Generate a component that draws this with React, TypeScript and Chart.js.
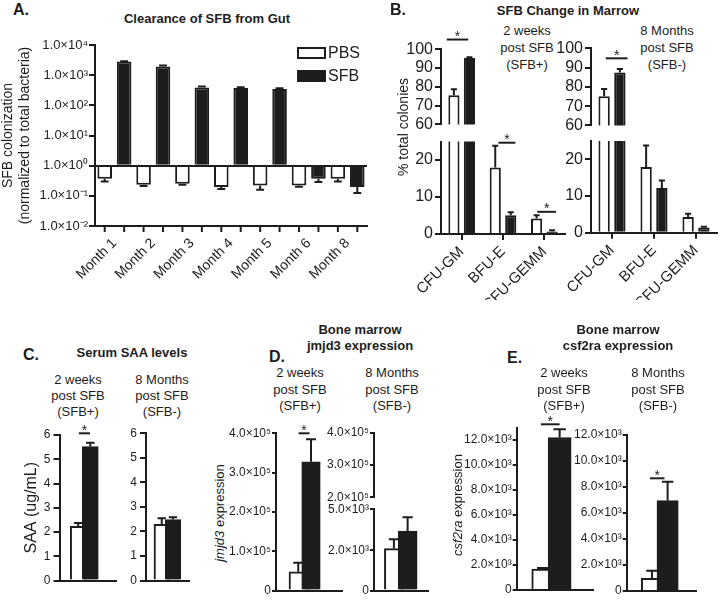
import React, { useEffect, useRef } from 'react';
import { Chart, registerables } from 'chart.js';

Chart.register(...registerables);

const FONT = '"Liberation Sans", Arial, Helvetica, sans-serif';
const INK = '#1d1d1d';
const WHITE = '#ffffff';

// ---------------- Panel A: clearance of SFB from gut ----------------
const monthLabels = ['Month 1', 'Month 2', 'Month 3', 'Month 4', 'Month 5', 'Month 6', 'Month 8'];
const gutPBS = [0.37, 0.235, 0.25, 0.197, 0.22, 0.22, 0.37];
const gutPBSErr = [0.07, 0.025, 0.015, 0.027, 0.06, 0.02, 0.07];
const gutSFB = [2830, 1950, 390, 375, 347, 0.37, 0.197];
const gutSFBErr = [70, 150, 30, 20, 18, 0.08, 0.072];
const gutDecades = [-2, -1, 0, 1, 2, 3, 4];

// ---------------- Panel B: colonies in marrow ----------------
const colonyTypes = ['CFU-GM', 'BFU-E', 'CFU-GEMM'];
const colonies2wPBS = [75.5, 18.0, 4.2];
const colonies2wPBSErr = [3.2, 5.9, 0.85];
const colonies2wSFB = [95.3, 5.1, 0.7];
const colonies2wSFBErr = [0.5, 0.8, 0.3];
const colonies8mPBS = [75.1, 17.9, 4.3];
const colonies8mPBSErr = [3.8, 5.9, 0.9];
const colonies8mSFB = [87.5, 12.2, 1.4];
const colonies8mSFBErr = [1.7, 2.0, 0.2];
const colonyUpperTicks = [60, 70, 80, 90, 100];
const colonyLowerTicks = [0, 10, 20];
// significance bars: [from (category index), to, y value]
const colonies2wSigUpper = [[-0.36, 0.16, 105.2]];
const colonies2wSigLower = [[0.89, 1.3, 24.7], [1.83, 2.28, 6.0]];
const colonies8mSigUpper = [[-0.15, 0.37, 94.8]];

// ---------------- Panel C: serum SAA ----------------
const groups = ['PBS', 'SFB'];
const saa2w = [2.23, 5.52];
const saa2wErr = [0.14, 0.16];
const saa8m = [2.29, 2.48];
const saa8mErr = [0.25, 0.1];
const saa2wSig = [[1.054, 1.98, 6.07]];
const saaTicks = [0, 1, 2, 3, 4, 5, 6];

// ---------------- Panel D: jmjd3 ----------------
const jmjd2w = [47800, 327700];
const jmjd2wErr = [23000, 57000];
const jmjd8m = [2090, 2960];
const jmjd8mErr = [460, 690];
const jmjd2wSig = [[1.03, 1.88, 400000]];
const jmjdTicks = [0, 100000, 200000, 300000, 400000];
const jmjdUpperTicks = [200000, 300000, 400000];
const jmjdLowerTicks = [0, 2000, 4050];
const jmjdLowerTickLabels = ['0', '2.0×10³', '5.0×10³'];

// ---------------- Panel E: csf2ra ----------------
const csf2w = [1680, 12200];
const csf2wErr = [80, 660];
const csf8m = [980, 6950];
const csf8mErr = [580, 1450];
const csf2wSig = [[0.854, 2.0, 13256]];
const csf8mSig = [[0.875, 1.8, 8669]];
const csfTicks = [0, 2000, 4000, 6000, 8000, 10000, 12000];

// ---------------- helpers ----------------
const SUP_MAP: Record<string, string> = {
  '0': '\u2070', '1': '\u00B9', '2': '\u00B2', '3': '\u00B3', '4': '\u2074',
  '5': '\u2075', '6': '\u2076', '7': '\u2077', '8': '\u2078', '9': '\u2079', '-': '\u207B',
};
const sup = (n: number) => String(n).split('').map((c) => SUP_MAP[c] || c).join('');

type Box = { x: number; y: number; w: number; h: number };
type Area = { l: number; t: number; r: number; b: number };
type Fit = { yW: number; xH: number; top: number; right: number };

const fitOf = (box: Box, a: Area): Fit => ({
  yW: a.l - box.x,
  xH: box.y + box.h - a.b,
  top: a.t - box.y,
  right: box.x + box.w - a.r,
});

const valOf = (d: any) => (typeof d === 'number' ? d : d.y);

const errorBarPlugin = {
  id: 'errorBars',
  afterDatasetsDraw(chart: any) {
    const { ctx, chartArea } = chart;
    const ys = chart.scales.y;
    ctx.save();
    ctx.beginPath();
    ctx.rect(chartArea.left, chartArea.top - 1, chartArea.right - chartArea.left, chartArea.bottom - chartArea.top + 1);
    ctx.clip();
    ctx.strokeStyle = INK;
    ctx.lineWidth = 2;
    chart.data.datasets.forEach((ds: any, di: number) => {
      if (!ds.errors) return;
      const base = ds.base ?? 0;
      const meta = chart.getDatasetMeta(di);
      meta.data.forEach((el: any, i: number) => {
        const v = valOf(ds.data[i]);
        const e = ds.errors[i];
        const end = v < base ? v - e : v + e;
        const py = ys.getPixelForValue(end);
        const cap = Math.max(3, el.width * 0.27);
        ctx.beginPath();
        ctx.moveTo(el.x, el.y);
        ctx.lineTo(el.x, py);
        ctx.moveTo(el.x - cap, py);
        ctx.lineTo(el.x + cap, py);
        ctx.stroke();
      });
    });
    ctx.restore();
  },
};

const barTickPlugin = {
  id: 'barTicks',
  afterDraw(chart: any) {
    const { ctx, chartArea } = chart;
    ctx.save();
    ctx.strokeStyle = INK;
    ctx.lineWidth = 2;
    chart.data.datasets.forEach((_: any, di: number) => {
      chart.getDatasetMeta(di).data.forEach((el: any) => {
        ctx.beginPath();
        ctx.moveTo(el.x, chartArea.bottom);
        ctx.lineTo(el.x, chartArea.bottom + 6);
        ctx.stroke();
      });
    });
    ctx.restore();
  },
};

const sigPlugin = (items: number[][]) => ({
  id: 'sig',
  afterDraw(chart: any) {
    const { ctx } = chart;
    const xs = chart.scales.x;
    const ys = chart.scales.y;
    ctx.save();
    ctx.strokeStyle = INK;
    ctx.fillStyle = INK;
    ctx.lineWidth = 2;
    ctx.font = `14px ${FONT}`;
    ctx.textAlign = 'center';
    ctx.textBaseline = 'alphabetic';
    items.forEach(([a, b, v]) => {
      const x1 = xs.getPixelForValue(a);
      const x2 = xs.getPixelForValue(b);
      const y = ys.getPixelForValue(v);
      ctx.beginPath();
      ctx.moveTo(x1, y);
      ctx.lineTo(x2, y);
      ctx.stroke();
      ctx.fillText('*', (x1 + x2) / 2, y + 1.5);
    });
    ctx.restore();
  },
});

const common = (f: Fit, xHidden: boolean) => ({
  responsive: false,
  maintainAspectRatio: false,
  animation: false,
  devicePixelRatio: 1,
  layout: { padding: { left: 0, top: f.top, right: f.right, bottom: xHidden ? f.xH : 0 } },
  plugins: { legend: { display: false }, tooltip: { enabled: false } },
});

type YOpts = {
  type?: string;
  min: number;
  max: number;
  font: number;
  fmt: (v: number) => string;
  ticks: number[];
  title?: any;
  tickLen?: number;
  pad?: number;
};

const yScale = (f: Fit, o: YOpts) => ({
  type: o.type ?? 'linear',
  position: 'left',
  min: o.min,
  max: o.max,
  afterFit: (s: any) => {
    s.width = f.yW;
  },
  afterBuildTicks: (s: any) => {
    s.ticks = o.ticks.map((v) => ({ value: v }));
  },
  border: { display: true, color: INK, width: 2, z: 1 },
  grid: {
    display: true,
    drawOnChartArea: false,
    drawTicks: true,
    tickLength: o.tickLen ?? 5,
    color: INK,
    tickColor: INK,
    lineWidth: 2,
  },
  ticks: {
    font: { family: FONT, size: o.font },
    color: INK,
    padding: o.pad ?? 2,
    autoSkip: false,
    callback: (v: any) => o.fmt(Number(v)),
  },
  title: o.title ?? { display: false },
});

const xCat = (f: Fit, font: number, showTicks: boolean) => ({
  type: 'category',
  position: 'bottom',
  offset: true,
  afterFit: (s: any) => {
    s.height = f.xH;
  },
  border: { display: true, color: INK, width: 2, z: 1 },
  grid: {
    display: true,
    offset: false,
    drawOnChartArea: false,
    drawTicks: true,
    tickLength: 6,
    color: showTicks ? INK : 'rgba(0,0,0,0)',
    lineWidth: 2,
  },
  ticks: {
    font: { family: FONT, size: font },
    color: INK,
    padding: 3,
    minRotation: 45,
    maxRotation: 45,
    autoSkip: false,
  },
});

const xLin = (f: Fit, min: number, max: number, hidden = false) =>
  hidden
    ? { type: 'linear', display: false, min, max }
    : {
        type: 'linear',
        position: 'bottom',
        min,
        max,
        afterFit: (s: any) => {
          s.height = f.xH;
        },
        border: { display: true, color: INK, width: 2, z: 1 },
        grid: { display: false },
        ticks: { display: false },
      };

const barDs = (label: string, data: any[], errors: number[], fill: any, extra: any = {}) => ({
  label,
  data,
  errors,
  backgroundColor: fill,
  borderColor: INK,
  borderWidth: 2,
  borderSkipped: 'start',
  clip: 0,
  ...extra,
});

// ---------------- chart builders ----------------
const buildGut = (f: Fit) => {
  const y: any = yScale(f, {
    type: 'logarithmic',
    min: 0.01,
    max: 10000,
    font: 13,
    ticks: gutDecades.map((d) => Math.pow(10, d)),
    fmt: (v) => '1.0×10' + sup(Math.round(Math.log10(v))),
    tickLen: 6,
    pad: 1,
    title: {
      display: true,
      text: ['SFB colonization', '(normalized to total bacteria)'],
      font: { family: FONT, size: 14 },
      color: INK,
      padding: 0,
    },
  });
  y.grid = {
    display: true,
    drawOnChartArea: true,
    drawTicks: true,
    tickLength: 6,
    z: 1,
    lineWidth: 2,
    color: (c: any) => (c.tick && Math.abs(c.tick.value - 1) < 1e-9 ? INK : 'rgba(0,0,0,0)'),
    tickColor: INK,
  };
  const barOpts = { base: 1, categoryPercentage: 1, barPercentage: 0.75 };
  return {
    type: 'bar',
    data: {
      labels: monthLabels,
      datasets: [
        barDs('PBS', gutPBS, gutPBSErr, WHITE, barOpts),
        barDs('SFB', gutSFB, gutSFBErr, INK, barOpts),
      ],
    },
    options: { ...common(f, false), scales: { x: xCat(f, 14, false), y } },
    plugins: [errorBarPlugin, barTickPlugin],
  };
};

const buildColonies = (
  pbs: number[],
  pbsErr: number[],
  sfb: number[],
  sfbErr: number[],
  upper: boolean,
  sig: number[][],
) => (f: Fit) => {
  const barOpts = { categoryPercentage: 0.75, barPercentage: 0.72 };
  return {
    type: 'bar',
    data: {
      labels: colonyTypes,
      datasets: [barDs('PBS', pbs, pbsErr, WHITE, barOpts), barDs('SFB', sfb, sfbErr, INK, barOpts)],
    },
    options: {
      ...common(f, upper),
      scales: {
        x: upper ? { type: 'category', display: false } : xCat(f, 15, true),
        y: yScale(f, {
          min: upper ? 60 : 0,
          max: upper ? 100 : 25,
          ticks: upper ? colonyUpperTicks : colonyLowerTicks,
          font: 16,
          fmt: (v) => String(v),
          tickLen: 6,
        }),
      },
    },
    plugins: [errorBarPlugin, sigPlugin(sig)],
  };
};

const buildSmall = (
  values: number[],
  errs: number[],
  xr: [number, number],
  thickness: number,
  y: YOpts,
  sig: number[][],
  hiddenX = false,
) => (f: Fit) => ({
  type: 'bar',
  data: {
    datasets: values.length
      ? [
          barDs(groups.join('/'), values.map((v, i) => ({ x: i + 1, y: v })), errs, [WHITE, INK], {
            barThickness: thickness,
          }),
        ]
      : [],
  },
  options: {
    ...common(f, hiddenX),
    scales: { x: xLin(f, xr[0], xr[1], hiddenX), y: yScale(f, y) },
  },
  plugins: [errorBarPlugin, sigPlugin(sig)],
});

const fmtSci = (exp: number) => (v: number) =>
  v === 0 ? '0' : `${(v / Math.pow(10, exp)).toFixed(1)}×10${sup(exp)}`;

// ---------------- components ----------------
function ChartCanvas({ box, area, build }: { box: Box; area: Area; build: (f: Fit) => any }) {
  const ref = useRef<HTMLCanvasElement | null>(null);
  useEffect(() => {
    if (!ref.current) return;
    const chart = new Chart(ref.current, build(fitOf(box, area)) as any);
    return () => chart.destroy();
  }, []);
  return (
    <canvas
      ref={ref}
      width={box.w}
      height={box.h}
      style={{ position: 'absolute', left: box.x, top: box.y, width: box.w, height: box.h }}
    />
  );
}

function Txt({
  x,
  y,
  children,
  size = 13,
  bold = false,
  left = false,
  rotate = false,
}: {
  x: number;
  y: number;
  children: any;
  size?: number;
  bold?: boolean;
  left?: boolean;
  rotate?: boolean;
}) {
  const transform = left ? 'translate(0,-50%)' : `translate(-50%,-50%)${rotate ? ' rotate(-90deg)' : ''}`;
  return (
    <div
      style={{
        position: 'absolute',
        left: x,
        top: y,
        transform,
        fontFamily: FONT,
        fontSize: size,
        fontWeight: bold ? 700 : 400,
        color: INK,
        whiteSpace: 'nowrap',
        lineHeight: 1,
      }}
    >
      {children}
    </div>
  );
}

function Sub({ x, ys, lines }: { x: number; ys: number[]; lines: string[] }) {
  return (
    <>
      {lines.map((l, i) => (
        <Txt key={i} x={x} y={ys[i]}>
          {l}
        </Txt>
      ))}
    </>
  );
}

const SFBP = ['2 weeks', 'post SFB', '(SFB+)'];
const SFBM = ['8 Months', 'post SFB', '(SFB-)'];

export default function App() {
  return (
    <div style={{ position: 'absolute', left: 0, top: 0, width: 720, height: 601, background: '#fff', overflow: 'hidden' }}>
      {/* Panel A */}
      <Txt x={13} y={10} size={16} bold left>
        A.
      </Txt>
      <Txt x={207} y={18} bold>
        Clearance of SFB from Gut
      </Txt>
      <ChartCanvas box={{ x: 0, y: 32, w: 375, h: 268 }} area={{ l: 95, t: 45, r: 367, b: 226 }} build={buildGut} />
      <div style={{ position: 'absolute', left: 297, top: 47, width: 25, height: 8, border: `2px solid ${INK}`, background: WHITE }} />
      <div style={{ position: 'absolute', left: 297, top: 70, width: 29, height: 12, background: INK }} />
      <Txt x={328} y={53} size={16} left>
        PBS
      </Txt>
      <Txt x={328} y={76} size={16} left>
        SFB
      </Txt>

      {/* Panel B */}
      <Txt x={390} y={10} size={16} bold left>
        B.
      </Txt>
      <Txt x={568} y={10} bold>
        SFB Change in Marrow
      </Txt>
      <Sub x={527} ys={[29.5, 46.5, 63.5]} lines={SFBP} />
      <Sub x={667} ys={[29.5, 46.5, 63.5]} lines={SFBM} />
      <Txt x={403} y={127} size={14} rotate>
        % total colonies
      </Txt>
      <ChartCanvas
        box={{ x: 395, y: 22, w: 175, h: 114 }}
        area={{ l: 441, t: 49.3, r: 565, b: 125.7 }}
        build={buildColonies(colonies2wPBS, colonies2wPBSErr, colonies2wSFB, colonies2wSFBErr, true, colonies2wSigUpper)}
      />
      <ChartCanvas
        box={{ x: 395, y: 130, w: 175, h: 170 }}
        area={{ l: 441, t: 141.5, r: 565, b: 234 }}
        build={buildColonies(colonies2wPBS, colonies2wPBSErr, colonies2wSFB, colonies2wSFBErr, false, colonies2wSigLower)}
      />
      <ChartCanvas
        box={{ x: 550, y: 30, w: 170, h: 107 }}
        area={{ l: 591, t: 48.3, r: 717, b: 126 }}
        build={buildColonies(colonies8mPBS, colonies8mPBSErr, colonies8mSFB, colonies8mSFBErr, true, colonies8mSigUpper)}
      />
      <ChartCanvas
        box={{ x: 550, y: 129, w: 170, h: 171 }}
        area={{ l: 591, t: 141, r: 717, b: 232.7 }}
        build={buildColonies(colonies8mPBS, colonies8mPBSErr, colonies8mSFB, colonies8mSFBErr, false, [])}
      />

      {/* Panel C */}
      <Txt x={23} y={355} size={16} bold left>
        C.
      </Txt>
      <Txt x={132} y={352} bold>
        Serum SAA levels
      </Txt>
      <Sub x={78} ys={[379, 395, 411]} lines={SFBP} />
      <Sub x={162} ys={[379, 395, 411]} lines={SFBM} />
      <ChartCanvas
        box={{ x: 22, y: 420, w: 98, h: 175 }}
        area={{ l: 59.5, t: 435, r: 116, b: 580.5 }}
        build={buildSmall(saa2w, saa2wErr, [0.618, 2.963], 16, {
          min: 0, max: 6, ticks: saaTicks, font: 12, fmt: (v) => String(v), tickLen: 6, pad: 3,
          title: { display: true, text: 'SAA (ug/mL)', font: { family: FONT, size: 16 }, color: INK, padding: 0 },
        }, saa2wSig)}
      />
      <ChartCanvas
        box={{ x: 125, y: 423, w: 68, h: 172 }}
        area={{ l: 146, t: 433, r: 189.3, b: 580.5 }}
        build={buildSmall(saa8m, saa8mErr, [0.564, 2.49], 15.5, {
          min: 0, max: 6, ticks: saaTicks, font: 12, fmt: (v) => String(v), tickLen: 6, pad: 3,
        }, [])}
      />

      {/* Panel D */}
      <Txt x={360} y={329} bold>
        Bone marrow
      </Txt>
      <Txt x={360} y={345} bold>
        jmjd3 expression
      </Txt>
      <Txt x={269} y={357} size={16} bold left>
        D.
      </Txt>
      <Sub x={300} ys={[372, 388.5, 404.5]} lines={SFBP} />
      <Sub x={392} ys={[372, 388.5, 404.5]} lines={SFBM} />
      <Txt x={219} y={513} size={13} rotate>
        <i>jmjd3</i> expression
      </Txt>
      <ChartCanvas
        box={{ x: 222, y: 418, w: 124, h: 182 }}
        area={{ l: 276, t: 433.3, r: 342, b: 590.5 }}
        build={buildSmall(jmjd2w, jmjd2wErr, [0.549, 3.137], 18.5, {
          min: 0, max: 400000, ticks: jmjdTicks, font: 12, fmt: fmtSci(5), tickLen: 4, pad: 1,
        }, jmjd2wSig)}
      />
      <ChartCanvas
        box={{ x: 320, y: 422, w: 113, h: 85 }}
        area={{ l: 374, t: 432.7, r: 428, b: 497.3 }}
        build={buildSmall([], [], [0.535, 2.5], 19, {
          min: 200000, max: 400000, ticks: jmjdUpperTicks, font: 12, fmt: fmtSci(5), tickLen: 4, pad: 1,
        }, [], true)}
      />
      <ChartCanvas
        box={{ x: 320, y: 499, w: 113, h: 101 }}
        area={{ l: 374, t: 509.3, r: 428, b: 590.5 }}
        build={buildSmall(jmjd8m, jmjd8mErr, [0.535, 2.5], 19, {
          min: 0, max: jmjdLowerTicks[jmjdLowerTicks.length - 1], font: 12, ticks: jmjdLowerTicks,
          fmt: (v) => jmjdLowerTickLabels[jmjdLowerTicks.indexOf(v)] ?? '', tickLen: 4, pad: 1,
        }, [])}
      />

      {/* Panel E */}
      <Txt x={618} y={329} bold>
        Bone marrow
      </Txt>
      <Txt x={618} y={345} bold>
        csf2ra expression
      </Txt>
      <Txt x={507} y={358} size={16} bold left>
        E.
      </Txt>
      <Sub x={564} ys={[372, 388.5, 404.5]} lines={SFBP} />
      <Sub x={658} ys={[372, 388.5, 404.5]} lines={SFBM} />
      <Txt x={457} y={505} size={13} rotate>
        <i>csf2ra</i> expression
      </Txt>
      <ChartCanvas
        box={{ x: 455, y: 408, w: 143, h: 192 }}
        area={{ l: 516.7, t: 427.5, r: 593.3, b: 590 }}
        build={buildSmall(csf2w, csf2wErr, [0.549, 2.884], 23, {
          min: 0, max: 13000, ticks: csfTicks, font: 12, fmt: fmtSci(3), tickLen: 4, pad: 1,
        }, csf2wSig)}
      />
      <ChartCanvas
        box={{ x: 568, y: 425, w: 135, h: 175 }}
        area={{ l: 626.7, t: 435, r: 696.7, b: 591 }}
        build={buildSmall(csf8m, csf8mErr, [0.505, 2.74], 21.3, {
          min: 0, max: 12000, ticks: csfTicks, font: 12, fmt: fmtSci(3), tickLen: 4, pad: 1,
        }, csf8mSig)}
      />
    </div>
  );
}
